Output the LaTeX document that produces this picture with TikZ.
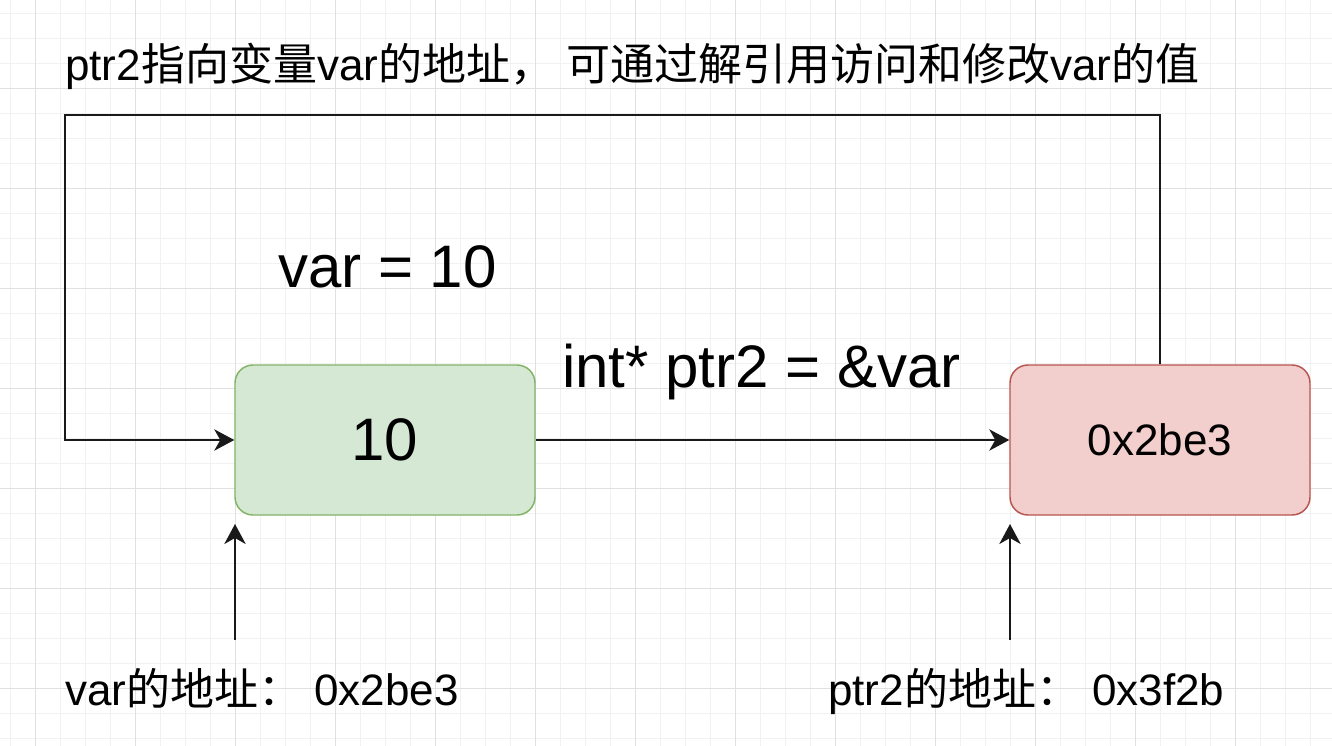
\documentclass[tikz,border=0pt]{standalone}
\usepackage{fontspec}
\setmainfont{Liberation Sans}
\newfontfamily\cjk{Noto Sans CJK SC}
\usepackage{tikz}
\usetikzlibrary{arrows.meta}

\definecolor{gridminor}{HTML}{F1F1F1}
\definecolor{gridmajor}{HTML}{E0E0E0}
\definecolor{varfill}{HTML}{D5E8D4}
\definecolor{varline}{HTML}{82B366}
\definecolor{ptrfill}{HTML}{F2CFCD}
\definecolor{ptrline}{HTML}{B85450}

\tikzset{
  cell/.style={rounded corners=13.5pt, line width=1.1pt, minimum width=225pt, minimum height=112.5pt, inner sep=0pt},
  link/.style={line width=1.5pt, draw=black!90, -{Stealth[length=15pt,width=16pt,inset=4.5pt]}},
  smalltxt/.style={inner sep=0pt, anchor=base west, font=\fontsize{33}{40}\selectfont},
  bigtxt/.style={inner sep=0pt, anchor=base west, font=\fontsize{45}{54}\selectfont},
}
\newcommand{\punctgap}{\hspace{9pt}}

\begin{document}
\begin{tikzpicture}[x=0.75pt,y=0.75pt,yscale=-1,xscale=1]
\useasboundingbox (0,0) rectangle (1332,746);
\fill[white] (0,0) rectangle (1332,746);

%Grid
\foreach \gx in {10,35,...,1335} \draw[gridminor, line width=0.75pt] (\gx,0) -- (\gx,746);
\foreach \gy in {13,38,...,746} \draw[gridminor, line width=0.75pt] (0,\gy) -- (1332,\gy);
\foreach \gx in {35,135,...,1235} \draw[gridmajor, line width=0.75pt] (\gx,0) -- (\gx,746);
\foreach \gy in {88,188,...,688} \draw[gridmajor, line width=0.75pt] (0,\gy) -- (1332,\gy);

%Shape: Rounded Rect [var]
\node[cell, fill=varfill, draw=varline, font=\fontsize{45}{54}\selectfont] (var) at (385,440) {10};
%Shape: Rounded Rect [ptr]
\node[cell, fill=ptrfill, draw=ptrline, font=\fontsize{33}{40}\selectfont] (ptr) at (1160,440) {0x2be3};

\coordinate (loopcorner) at (65,115);
\coordinate (varfoot) at (235,640);
\coordinate (varhead) at (235,524);
\coordinate (ptrfoot) at (1010,640);
\coordinate (ptrhead) at (1010,524);

%Connectors
\draw[link] (var.east) -- (ptr.west);
\draw[link] (ptr.north) |- (loopcorner) |- (var.west);
\draw[link] (varfoot) -- (varhead);
\draw[link] (ptrfoot) -- (ptrhead);

% Text Node
\node[smalltxt] (deref) at (65,80) {ptr2{\cjk 指向变量}var{\cjk 的地址，}\punctgap{\cjk 可通过解引用访问和修改}var{\cjk 的值}};
% Text Node
\node[bigtxt] (assign) at (278,287) {var = 10};
% Text Node
\node[bigtxt] (decl) at (562,387) {int* ptr2 = \&var};
% Text Node
\node[smalltxt] (varaddr) at (65,705) {var{\cjk 的地址：}\punctgap 0x2be3};
% Text Node
\node[smalltxt] (ptraddr) at (828,705) {ptr2{\cjk 的地址：}\punctgap 0x3f2b};
\end{tikzpicture}
\end{document}
